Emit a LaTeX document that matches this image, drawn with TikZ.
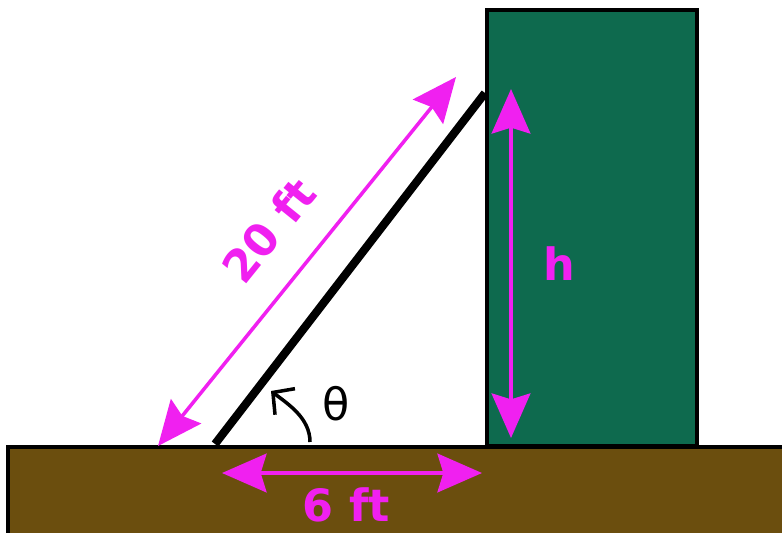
\documentclass[tikz,border=0pt]{standalone}
\usepackage{fontspec}
\setmainfont{DejaVu Sans}
\usetikzlibrary{arrows.meta}
\definecolor{groundcolor}{HTML}{6B4E0E}
\definecolor{wallcolor}{HTML}{0E6A4E}
\definecolor{dimcolor}{HTML}{F020F0}
\tikzset{
    dimarrow/.style={dimcolor, line width=3pt,
        {Stealth[length=38pt,width=33pt,inset=5pt]}-{Stealth[length=38pt,width=33pt,inset=5pt]}},
    dimlabel/.style={text=dimcolor, font=\fontsize{38}{44}\selectfont\bfseries, inner sep=2pt},
}

\begin{document}
\begin{tikzpicture}[x=0.03cm, y=-0.03cm]
    \useasboundingbox[fill=white] (0,0) rectangle (782,533);
    % --- ground and wall ---
    \fill[groundcolor] (8,447) rectangle (782,533);
    \draw[line width=3.5pt] (8,533) -- (8,447) -- (782,447);
    \draw[fill=wallcolor, line width=3.5pt] (487,10) rectangle (697,446);
    % --- ladder ---
    \coordinate (foot) at (215,444);
    \coordinate (top) at (485,93);
    \draw[line width=7pt] (foot) -- (top);
    % --- dimensions ---
    \coordinate (lenA) at (158,446);
    \coordinate (lenB) at (456,77);
    \draw[dimarrow] (lenA) -- node[dimlabel, sloped, above=24pt] (len) {20 ft} (lenB);
    \coordinate (hA) at (511,438);
    \coordinate (hB) at (511,89);
    \draw[dimarrow] (hA) -- node[dimlabel, right=24pt] (hgt) {h} (hB);
    \coordinate (baseA) at (222,473);
    \coordinate (baseB) at (482,473);
    \draw[dimarrow] (baseA) -- node[dimlabel, below=9pt, xshift=-5pt] (base) {6 ft} (baseB);
    % --- angle ---
    \coordinate (angA) at (310,442);
    \coordinate (angB) at (271,391);
    \draw[line width=3pt, -{Straight Barb[length=13pt,width=28pt]}]
        (angA) .. controls (310,418) and (288,404) .. (angB);
    \node[font=\fontsize{38}{44}\selectfont] (theta) at (336,404) {θ};
\end{tikzpicture}
\end{document}
